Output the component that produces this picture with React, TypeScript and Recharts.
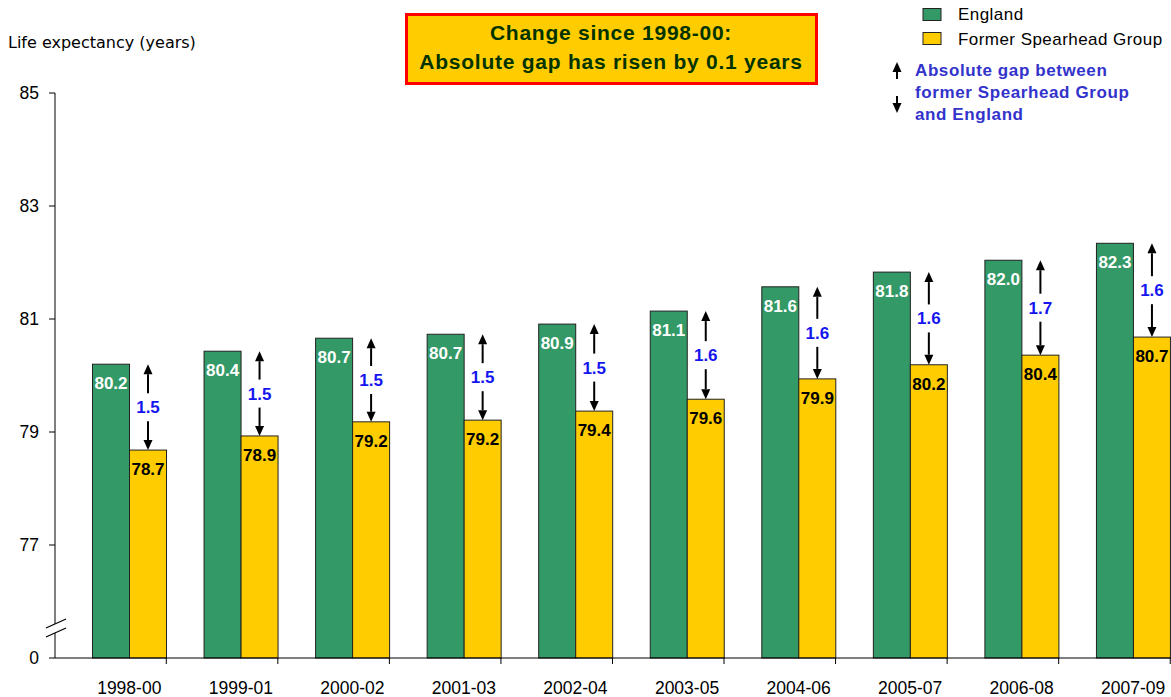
import React from 'react';
import { BarChart, Bar, XAxis, YAxis } from 'recharts';

const categories = ['1998-00', '1999-01', '2000-02', '2001-03', '2002-04', '2003-05', '2004-06', '2005-07', '2006-08', '2007-09'];
const england = [80.2, 80.43, 80.66, 80.73, 80.91, 81.14, 81.57, 81.83, 82.04, 82.34];
const spearhead = [78.68, 78.93, 79.18, 79.21, 79.37, 79.58, 79.94, 80.19, 80.36, 80.68];
const gaps = [1.5, 1.5, 1.5, 1.5, 1.5, 1.6, 1.6, 1.6, 1.7, 1.6];
const yTicks = [75, 77, 79, 81, 83, 85];

const data = categories.map((period, i) => ({
  period,
  england: england[i],
  spearhead: spearhead[i],
  gap: gaps[i],
}));

const GREEN = '#339966';
const YELLOW = '#FFCC00';
const BASE = 75;
const BAR_W = 37;
const FONT = '"Liberation Sans", Arial, sans-serif';

function arrow(x: number, fromY: number, tipY: number) {
  const dir = tipY < fromY ? 1 : -1;
  const headY = tipY + dir * 10;
  return (
    <g>
      <line x1={x} y1={fromY} x2={x} y2={headY} stroke="#000" strokeWidth={2} />
      <polygon points={`${x},${tipY} ${x - 4.5},${headY} ${x + 4.5},${headY}`} fill="#000" />
    </g>
  );
}

const EnglandShape = (props: any) => {
  const { x, y, width, height, payload } = props;
  return (
    <g>
      <rect x={x} y={y} width={width} height={height} fill={GREEN} stroke="#222" strokeWidth={1} />
      <text x={x + width / 2} y={y + 25} textAnchor="middle" fontFamily={FONT} fontWeight="bold" fontSize={17} fill="#fff">
        {payload.england.toFixed(1)}
      </text>
    </g>
  );
};

const SpearheadShape = (props: any) => {
  const { x, y, width, height, payload } = props;
  // pixels per year, taken from this bar (its base sits at the axis minimum)
  const perUnit = height / (payload.spearhead - BASE);
  const engY = y - (payload.england - payload.spearhead) * perUnit;
  const mid = (engY + y) / 2;
  const cx = x + width / 2;
  return (
    <g>
      <rect x={x} y={y} width={width} height={height} fill={YELLOW} stroke="#222" strokeWidth={1} />
      <text x={cx} y={y + 25} textAnchor="middle" fontFamily={FONT} fontWeight="bold" fontSize={17} fill="#000">
        {payload.spearhead.toFixed(1)}
      </text>
      {arrow(cx, mid - 14, engY)}
      {arrow(cx, mid + 14, y)}
      <text x={cx} y={mid + 6} textAnchor="middle" fontFamily={FONT} fontWeight="bold" fontSize={17} fill="#1515F0">
        {payload.gap.toFixed(1)}
      </text>
    </g>
  );
};

const XTick = (props: any) => {
  const { x, y, payload } = props;
  return (
    <g>
      <line x1={x + BAR_W} y1={y} x2={x + BAR_W} y2={y + 6} stroke="#000" />
      <text x={x} y={y + 36} textAnchor="middle" fontFamily={FONT} fontSize={17.5} fill="#000">
        {payload.value}
      </text>
    </g>
  );
};

export default function App() {
  return (
    <div style={{ position: 'absolute', left: 0, top: 0, width: 1171, height: 697, overflow: 'hidden', background: '#fff' }}>
      <BarChart width={1189} height={697} data={data} margin={{ top: 93, right: 0, left: 0, bottom: 0 }} barGap={0} barSize={BAR_W}>
        <XAxis
          dataKey="period"
          padding={{ left: 18.5, right: 0 }}
          interval={0}
          tickLine={false}
          tickSize={0}
          tickMargin={0}
          height={39}
          axisLine={{ stroke: '#000' }}
          tick={<XTick />}
        />
        <YAxis
          domain={[75, 85]}
          ticks={yTicks}
          interval={0}
          width={55}
          tickSize={6}
          tickMargin={10}
          axisLine={{ stroke: '#000' }}
          tickLine={{ stroke: '#000' }}
          tickFormatter={(v: number) => (v === 75 ? '0' : String(v))}
          tick={{ fontFamily: FONT, fontSize: 17.5, fill: '#000' }}
        />
        <Bar dataKey="england" isAnimationActive={false} shape={<EnglandShape />} />
        <Bar dataKey="spearhead" isAnimationActive={false} shape={<SpearheadShape />} />
      </BarChart>
      <svg width={1171} height={697} style={{ position: 'absolute', left: 0, top: 0, pointerEvents: 'none' }}>
        <text x={8} y={48} fontFamily='"DejaVu Sans", sans-serif' fontSize={16} fill="#000">
          Life expectancy (years)
        </text>
        {/* axis break */}
        <polygon points="46,628 66,619 66,628 46,637" fill="#fff" />
        <line x1={46} y1={628} x2={66} y2={619} stroke="#000" strokeWidth={1.2} />
        <line x1={46} y1={637} x2={66} y2={628} stroke="#000" strokeWidth={1.2} />

        <rect x={406.5} y={14.5} width={410} height={69} fill={YELLOW} stroke="#FF0000" strokeWidth={3} />
        <text x={611} y={40} textAnchor="middle" fontFamily={FONT} fontWeight="bold" fontSize={21} letterSpacing={0.75} fill="#003300">
          Change since 1998-00:
        </text>
        <text x={611} y={69} textAnchor="middle" fontFamily={FONT} fontWeight="bold" fontSize={21} letterSpacing={0.75} fill="#003300">
          Absolute gap has risen by 0.1 years
        </text>

        <rect x={923} y={8.5} width={18} height={12} fill={GREEN} stroke="#222" />
        <text x={958} y={20} fontFamily={FONT} fontSize={17} letterSpacing={0.45} fill="#000">England</text>
        <rect x={923} y={32.5} width={18} height={12} fill={YELLOW} stroke="#222" />
        <text x={958} y={45} fontFamily={FONT} fontSize={17} letterSpacing={0.45} fill="#000">Former Spearhead Group</text>

        {arrow(897, 79, 62)}
        {arrow(897, 96, 113)}
        <text fontFamily={FONT} fontWeight="bold" fontSize={17} letterSpacing={0.6} fill="#3333CC">
          <tspan x={915} y={76}>Absolute gap between</tspan>
          <tspan x={915} y={98}>former Spearhead Group</tspan>
          <tspan x={915} y={120}>and England</tspan>
        </text>
      </svg>
    </div>
  );
}
